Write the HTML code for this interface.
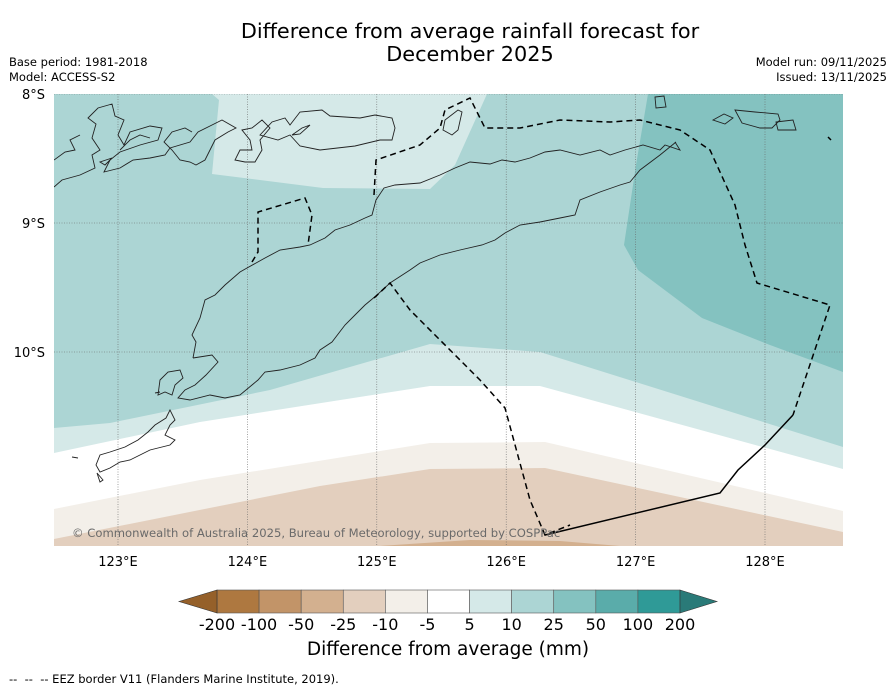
<!DOCTYPE html>
<html><head><meta charset="utf-8">
<style>
body{margin:0;background:#fff;font-family:"DejaVu Sans","Liberation Sans",sans-serif;}
#wrap{position:relative;width:896px;height:690px;overflow:hidden;}
.t{position:absolute;white-space:nowrap;color:#000;}
</style></head>
<body>
<div id="wrap">
<div class="t" style="left:0;width:940px;text-align:center;top:20px;font-size:20.8px;line-height:23px;">Difference from average rainfall forecast for<br>December 2025</div>
<div class="t" style="left:9px;top:55px;font-size:11.5px;line-height:15px;">Base period: 1981-2018<br>Model: ACCESS-S2</div>
<div class="t" style="right:9px;top:55px;font-size:11.5px;line-height:15px;text-align:right;">Model run: 09/11/2025<br>Issued: 13/11/2025</div>
<svg id="svg" width="896" height="690" style="position:absolute;left:0;top:0">
<defs><clipPath id="clip"><rect x="54" y="94" width="789" height="452"/></clipPath></defs>
<g id="map" clip-path="url(#clip)">
 <rect x="54" y="94" width="789" height="452" fill="#acd5d4"/>
 <polygon fill="#d5e9e8" points="212,94 487,94 455,165 430,189 323,188 212,174 219,100"/>
 <polygon fill="#84c2c0" points="648,94 843,94 843,372 770,345 702,318 638,270 624,245 636,165"/>
 <polygon fill="#d5e9e8" points="54,428 110,423 270,390 430,344 540,352 843,447 843,546 54,546"/>
 <polygon fill="#ffffff" points="54,453 200,422 430,386 540,386 843,469 843,546 54,546"/>
 <polygon fill="#f3efe9" points="54,509 200,480 430,443 545,442 843,511 843,546 54,546"/>
 <polygon fill="#e3cfbe" points="54,539 320,486 430,469 545,468 843,532 843,546 54,546"/>
 <polygon fill="#d3b08f" points="380,546 470,540 560,541 620,546"/>
 <g id="grid"></g>
 <g fill="none" stroke="#222" stroke-width="0.9">
  <path d="M54,187 L62,180 L80,175 L95,168 L92,155 L100,150 L92,138 L96,124 L88,118 L98,108 L112,104 L115,116 L124,120 L118,135 L124,145 L130,132 L150,126 L162,128 L158,140 L140,145 L120,152 L110,160 L104,172 L120,168 L133,160 L150,158 L165,155 L170,148 L190,142 L198,132 L210,126 L222,120 L236,128 L228,132 L215,140 L210,150 L205,160 L196,165 L190,162 L180,160 L172,150 L164,142 L172,132 L185,128 L192,132"/>
  <path d="M54,160 L65,152 L75,150 L70,140 L80,135"/>
  <path d="M120,150 L130,140 L140,135 L150,138"/>
  <path d="M105,165 L112,158 L100,162 Z"/>
  <path d="M242,130 L252,128 L262,120 L270,128 L260,140 L262,150 L255,162 L245,162 L235,160 L240,150 L252,150 L250,140 Z"/>
  <path d="M260,135 L272,122 L285,118 L290,125 L300,112 L322,110 L330,116 L360,118 L375,115 L392,118 L395,128 L392,140 L380,140 L355,146 L320,150 L300,146 L290,135 L278,140 Z"/>
  <path d="M292,135 L302,128 L310,125 L300,134 Z"/>
  <path d="M445,120 L458,110 L462,112 L458,130 L452,135 L443,130 Z"/>
  <path d="M193,358 L196,342 L192,335 L200,318 L205,300 L215,295 L225,285 L240,272 L247,268 L265,258 L280,250 L300,247 L310,245 L325,238 L335,230 L350,225 L365,218 L372,215 L376,200 L384,188 L395,185 L420,183 L440,175 L455,168 L470,162 L490,164 L502,160 L515,162 L530,158 L545,152 L560,150 L580,155 L600,150 L610,155 L625,150 L643,145 L660,150 L665,145 L680,150 L675,142"/>
  <path d="M193,358 L212,355 L218,362 L206,375 L195,385 L185,390 L178,398 L190,400 L210,395 L225,398 L240,395 L258,380 L265,372 L280,370 L300,365 L315,358 L320,350 L332,342 L345,325 L355,315 L365,305 L377,295 L390,283 L410,270 L420,263 L440,255 L460,250 L482,245 L495,240 L505,233 L520,225 L540,222 L560,218 L575,215 L580,200 L600,192 L620,185 L630,182 L640,170 L660,155 L676,142"/>
  <path d="M160,380 L168,372 L180,370 L183,378 L175,385 L172,395 L165,392 L158,395 Z"/>
  <path d="M155,393 L160,392"/>
  <path d="M170,410 L166,418 L155,425 L148,432 L138,440 L125,447 L110,452 L100,455 L96,465 L100,472 L110,468 L120,462 L130,460 L140,455 L150,450 L170,445 L175,440 L165,435 L170,425 L175,420 Z"/>
  <path d="M97,473 L103,480 L100,482 Z"/>
  <path d="M72,457 L78,458"/>
  <path d="M655,97 L664,96 L666,107 L656,108 Z"/>
  <path d="M713,120 L724,114 L733,118 L725,124 Z"/>
  <path d="M735,110 L755,112 L778,114 L780,120 L772,128 L760,128 L742,123 Z"/>
  <path d="M776,122 L793,120 L796,130 L778,130 Z"/>
 </g>
 <g fill="none" stroke="#000" stroke-width="1.5" stroke-dasharray="6,4">
  <path d="M252,262 L258,252 L258,212 L305,198 L312,215 L308,245"/>
  <path d="M374,195 L376,160 L420,145 L440,128 L445,110 L470,98 L485,128 L520,128 L560,120 L610,122 L640,120 L680,130 L710,150 L735,205 L745,245 L757,283 L830,305 L793,415"/>
  <path d="M374,298 L390,283 L410,310 L440,340 L480,380 L505,408 L530,500 L545,535 L570,525"/>
  <path d="M828,137 L831,140"/>
 </g>
 <path d="M545,535 L720,493 L738,470 L765,445 L793,415" fill="none" stroke="#000" stroke-width="1.5"/>
</g>
<g id="axes"></g>
<g id="cbar"></g>
</svg>
<div class="t" style="left:72px;top:526px;font-size:11.6px;color:#6a6a6a;">© Commonwealth of Australia 2025, Bureau of Meteorology, supported by COSPPac</div>
<div class="t" style="left:0;width:896px;text-align:center;top:639px;font-size:18.5px;">Difference from average (mm)</div>
<div class="t" style="left:9px;top:672px;font-size:11.5px;">--&nbsp; --&nbsp; -- EEZ border V11 (Flanders Marine Institute, 2019).</div>
</div>
<script>
const lonTicks=[123,124,125,126,127,128];
const latTicks=[8,9,10];
const levels=["-200","-100","-50","-25","-10","-5","5","10","25","50","100","200"];
const colors=["#ae7840","#c29468","#d3b08f","#e3cfbe","#f3efe9","#ffffff","#d5e9e8","#acd5d4","#84c2c0","#5aacaa","#2f9a97"];
const underColor="#95602a", overColor="#2a7a78";
const NS="http://www.w3.org/2000/svg";
function lonX(l){return 118+(l-123)*129.4;}
function latY(l){return 94+(l-8)*129;}
function mk(t,a,p){const e=document.createElementNS(NS,t);for(const k in a)e.setAttribute(k,a[k]);p.appendChild(e);return e;}
const grid=document.getElementById('grid'),axes=document.getElementById('axes'),cb=document.getElementById('cbar');
lonTicks.forEach(l=>{
 const g=mk('line',{x1:lonX(l),x2:lonX(l),y1:94,y2:546,stroke:'#666','stroke-width':0.6,'stroke-dasharray':'1,1.5'},grid);
 
 
 const t=mk('text',{x:lonX(l),y:566,'text-anchor':'middle','font-size':13},axes);t.textContent=l+'°E';
 
 
});
latTicks.forEach(l=>{
 const g=mk('line',{x1:54,x2:843,y1:latY(l),y2:latY(l),stroke:'#666','stroke-width':0.6,'stroke-dasharray':'1,1.5'},grid);
 
 
 const t=mk('text',{x:45,y:latY(l)+5,'text-anchor':'end','font-size':13},axes);t.textContent=l+'°S';
 
 
});
const x0=217,x1=680,y0=590,h=23,w=(x1-x0)/colors.length;
colors.forEach((c,i)=>{
 const r=mk('rect',{x:x0+i*w,y:y0,width:w,height:h,fill:c,stroke:'#555','stroke-width':0.6},cb);
 
 
});
const lt=mk('polygon',{points:`${x0},${y0} ${x0},${y0+h} 179,${y0+h/2}`,fill:underColor,stroke:'#333','stroke-width':0.6},cb);


const rt=mk('polygon',{points:`${x1},${y0} ${x1},${y0+h} 717,${y0+h/2}`,fill:overColor,stroke:'#333','stroke-width':0.6},cb);


levels.forEach((v,i)=>{
 const t=mk('text',{x:x0+i*w,y:630,'text-anchor':'middle','font-size':16},cb);t.textContent=v;
 
 
});
</script>
</body></html>
